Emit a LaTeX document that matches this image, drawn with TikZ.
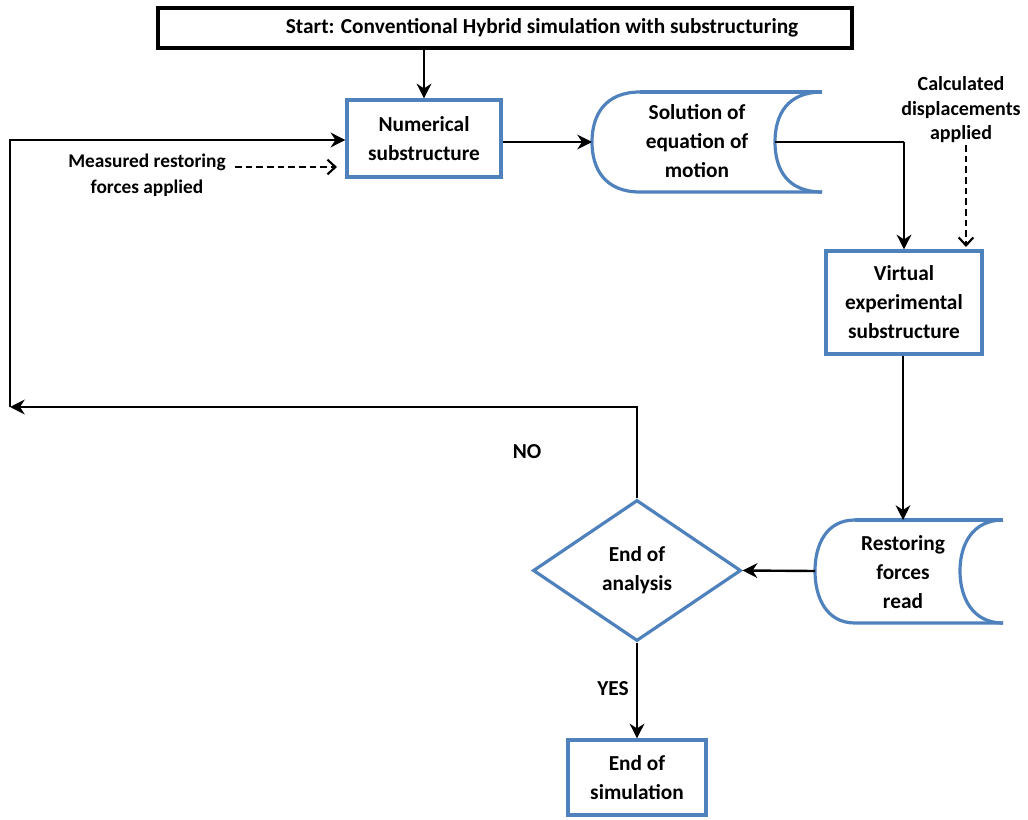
\documentclass[tikz,border=0pt]{standalone}
\usepackage{fontspec}
\setmainfont{Carlito}
\usetikzlibrary{arrows.meta,shapes.geometric}
\definecolor{boxblue}{RGB}{79,129,189}
\begin{document}
\begin{tikzpicture}[x=0.75pt,y=-0.75pt,
  txt/.style={font=\bfseries\fontsize{16}{21.75}\selectfont,align=center,inner sep=0pt},
  bbox/.style={draw=boxblue,line width=2.4pt,fill=white,txt},
  conn/.style={line width=1.8pt,-{Stealth[length=11pt,width=11pt,inset=3.5pt]}},
  dconn/.style={line width=1.6pt,dashed,dash pattern=on 5pt off 3pt,-{Straight Barb[length=6pt,width=11pt,line width=1.6pt]}},
  shapeline/.style={draw=boxblue,line width=2.4pt}]
\useasboundingbox (0,0) rectangle (1028,820);

% Start box
\node[draw=black,line width=2.4pt,minimum width=520.5pt,minimum height=30pt,txt] (start) at (505,28) {\hspace*{55.5pt}Start: Conventional Hybrid simulation with substructuring};

% Numerical substructure
\node[bbox,minimum width=115.5pt,minimum height=57.75pt] (num) at (424,138.5) {Numerical\\substructure};

% Solution cylinder
\path[shapeline] (640,92) .. controls (605,92) and (592,115) .. (592,142) .. controls (592,169) and (605,192) .. (640,192) -- (822,192);
\path[shapeline] (640,92) -- (822,92);
\path[shapeline] (822,92) .. controls (787,92) and (775,115) .. (775,142) .. controls (775,169) and (787,192) .. (822,192);
\coordinate (solL) at (592,142);
\coordinate (solR) at (775,142);
\node[txt] (sol) at (697,141) {Solution of\\equation of\\motion};

% Virtual experimental substructure
\node[bbox,minimum width=117pt,minimum height=77.25pt] (virt) at (904,302.5) {Virtual\\experimental\\substructure};

% Restoring forces read cylinder
\path[shapeline] (855,520) .. controls (826,520) and (815,545) .. (815,571) .. controls (815,597) and (826,623) .. (855,623) -- (1003,623);
\path[shapeline] (855,520) -- (1003,520);
\path[shapeline] (1003,520) .. controls (972,520) and (960,545) .. (960,571) .. controls (960,597) and (972,623) .. (1003,623);
\coordinate (resL) at (815,571);
\coordinate (resT) at (903,520);
\node[txt] (res) at (903,572) {Restoring\\forces\\read};

% Diamond
\node[diamond,draw=boxblue,line width=2.4pt,aspect=1.475,minimum width=156pt,minimum height=105.75pt,inner sep=0pt,txt] (dec) at (637,570.5) {\raisebox{-3pt}{End of}\\\raisebox{-3pt}{analysis}};

% End of simulation
\node[bbox,minimum width=103.5pt,minimum height=56.25pt] (end) at (637,777.5) {End of\\simulation};

% Labels
\node[txt,font=\bfseries\fontsize{14.5}{19.5}\selectfont] (meas) at (147,175) {Measured restoring\\forces applied};
\node[txt,font=\bfseries\fontsize{15}{18.4}\selectfont] (calc) at (961,110) {Calculated\\displacements\\applied};
\node[txt] (no) at (527,452) {NO};
\node[txt] (yes) at (613,689) {YES};

% Coordinates
\coordinate (loopL) at (10,407);
\coordinate (loopT) at (10,140);
\coordinate (decUp) at (637,407);
\coordinate (measE) at (235,167);
\coordinate (measTip) at (337,167);
\coordinate (calcS) at (966,145);
\coordinate (calcTip) at (966,247);

% Connectors
\draw[conn] (start.south -| num.north) -- (num.north);
\draw[conn] (num.east |- solL) -- (solL);
\draw[conn,-] (solR) -- (solR -| virt.north);
\draw[conn] (solR -| virt.north) -- (virt.north);
\draw[conn] (virt.south -| resT) -- (resT);
\draw[conn] (resL) -- (dec.east);
\draw[conn] (dec.south) -- (end.north);
\draw[conn] (dec.north) -- (decUp) -- (loopL);
\draw[conn] (loopL) -- (loopT) -- (loopT -| num.west);
\draw[dconn] (measE) -- (measTip);
\draw[dconn] (calcS) -- (calcTip);
\end{tikzpicture}
\end{document}
